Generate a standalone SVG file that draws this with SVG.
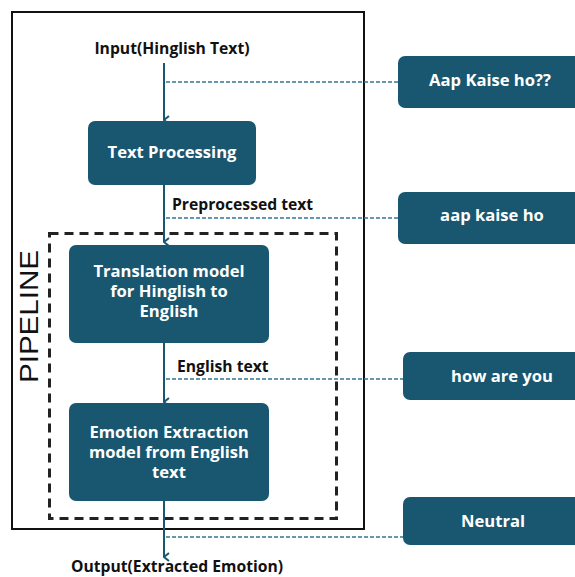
<svg xmlns="http://www.w3.org/2000/svg" width="575" height="577" viewBox="0 0 575 577">
<defs>
<style>
.box{fill:#18576f;}
.bt{font-family:"Open Sans","Liberation Sans",sans-serif;font-weight:700;font-size:16.6px;fill:#ffffff;text-anchor:middle;}
.lbl{font-family:"Open Sans","Liberation Sans",sans-serif;font-weight:700;font-size:15.7px;fill:#111111;}
.flow{stroke:#18576f;stroke-width:2;fill:none;marker-end:url(#ah);}
.dash{stroke:#347792;stroke-width:1.3;stroke-dasharray:4 2;fill:none;}
</style>
<marker id="ah" viewBox="0 0 10 10" refX="5" refY="9" markerWidth="10" markerHeight="10" markerUnits="userSpaceOnUse" orient="auto-start-reverse">
<path d="M1,4 L5,9 L9,4" fill="none" stroke="#18576f" stroke-width="2"/>
</marker>
</defs>
<rect width="575" height="577" fill="#ffffff"/>
<g id="outer-frame">
<rect x="12" y="12" width="352" height="517" fill="none" stroke="#111111" stroke-width="2"/>
</g>
<g id="pipeline">
<rect x="49.5" y="233.5" width="287" height="285" fill="none" stroke="#222222" stroke-width="3" stroke-dasharray="9 6"/>
<text transform="translate(38,316.5) rotate(-90)" font-family="'Liberation Sans',Arial,sans-serif" font-size="25" fill="#111111" text-anchor="middle" textLength="133" lengthAdjust="spacingAndGlyphs">PIPELINE</text>
</g>
<g id="connectors">
<line class="flow" x1="164" y1="63" x2="164" y2="120"/>
<line class="flow" x1="164" y1="185" x2="164" y2="242"/>
<line class="flow" x1="164" y1="343" x2="164" y2="402"/>
<line class="flow" x1="164" y1="501" x2="164" y2="557"/>
<line class="dash" x1="166" y1="82" x2="398" y2="82"/>
<line class="dash" x1="166" y1="218" x2="398" y2="218"/>
<line class="dash" x1="166" y1="379" x2="403" y2="379"/>
<line class="dash" x1="166" y1="537" x2="403" y2="537"/>
</g>
<g id="input-label"><text class="lbl" x="172" y="54" text-anchor="middle">Input(Hinglish Text)</text></g>
<g id="text-processing">
<rect class="box" x="88" y="121" width="168" height="64" rx="7"/>
<text class="bt" x="172" y="158">Text Processing</text>
</g>
<g id="preprocessed-label"><text class="lbl" x="172" y="210">Preprocessed text</text></g>
<g id="translation-model">
<rect class="box" x="69" y="245" width="200" height="98" rx="7"/>
<text class="bt" x="169" y="277">Translation model</text>
<text class="bt" x="169" y="297">for Hinglish to</text>
<text class="bt" x="169" y="317">English</text>
</g>
<g id="english-label"><text class="lbl" x="177" y="372">English text</text></g>
<g id="emotion-model">
<rect class="box" x="69" y="403" width="200" height="98" rx="7"/>
<text class="bt" x="169" y="438">Emotion Extraction</text>
<text class="bt" x="169" y="458">model from English</text>
<text class="bt" x="169" y="478">text</text>
</g>
<g id="output-label"><text class="lbl" x="177" y="572" text-anchor="middle">Output(Extracted Emotion)</text></g>
<g id="ex-input">
<rect class="box" x="398" y="56" width="190" height="52" rx="7"/>
<text class="bt" x="490" y="86">Aap Kaise ho??</text>
</g>
<g id="ex-preprocessed">
<rect class="box" x="398" y="192" width="190" height="52" rx="7"/>
<text class="bt" x="492" y="221">aap kaise ho</text>
</g>
<g id="ex-english">
<rect class="box" x="403" y="352" width="185" height="48" rx="7"/>
<text class="bt" x="502" y="382">how are you</text>
</g>
<g id="ex-output">
<rect class="box" x="403" y="497" width="185" height="48" rx="7"/>
<text class="bt" x="493" y="527">Neutral</text>
</g>
</svg>
